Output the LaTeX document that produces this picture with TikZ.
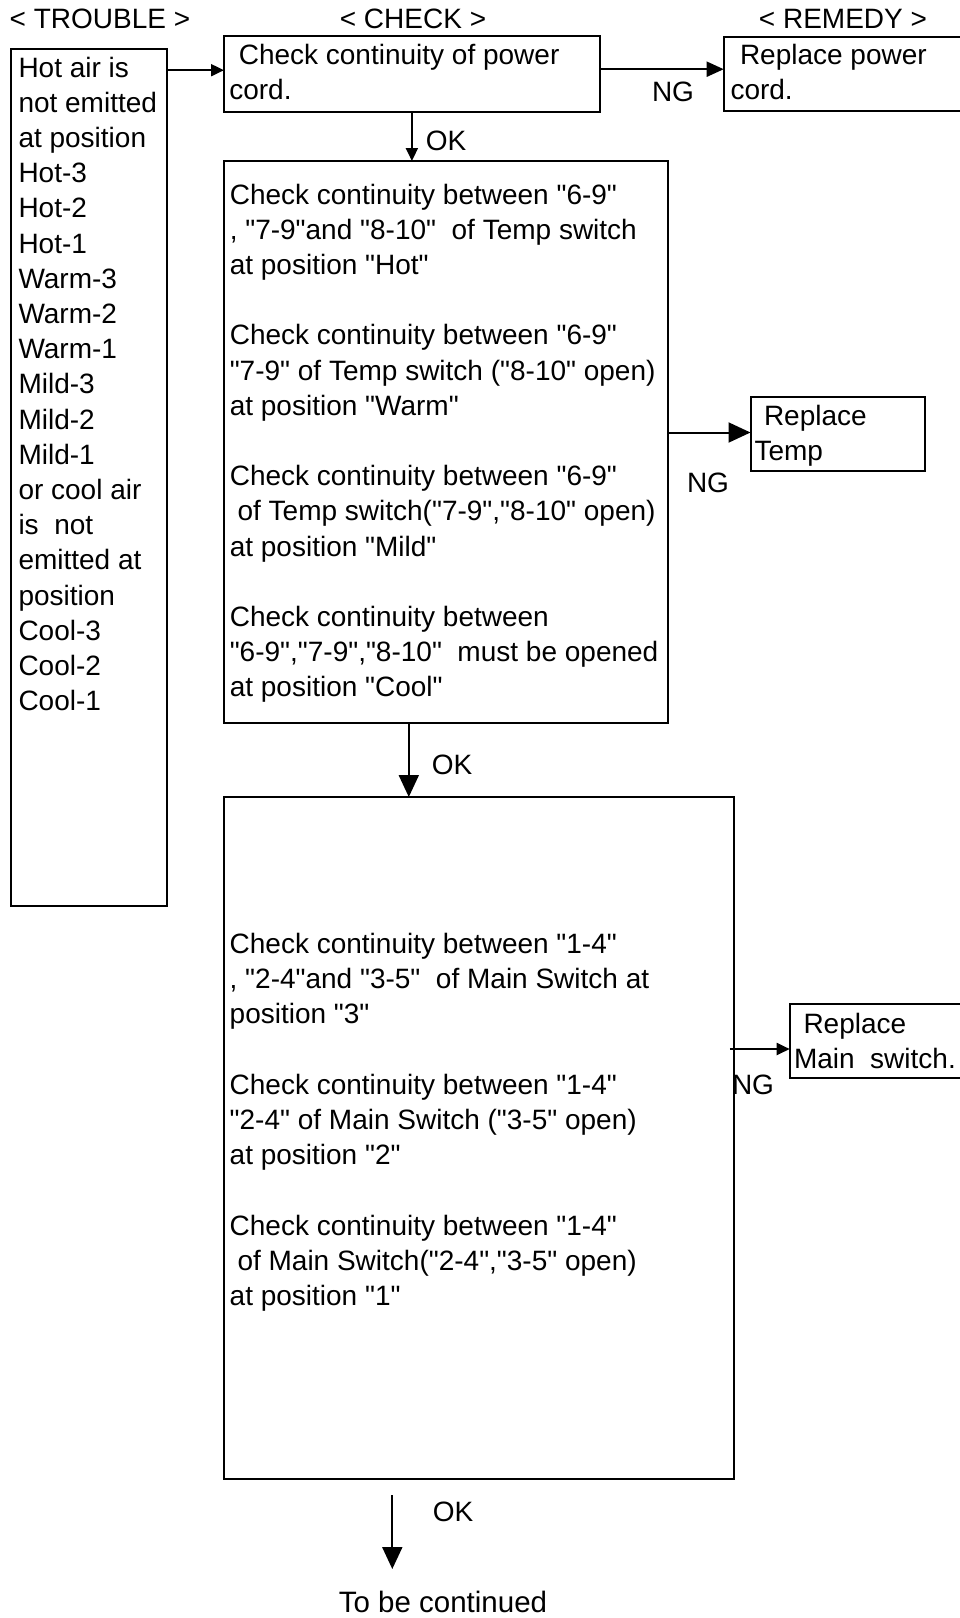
\documentclass[tikz,border=0pt]{standalone}
\usepackage{fontspec}
\newfontfamily\arialf{Liberation Sans}
\usetikzlibrary{arrows.meta,fit}
\begin{document}
\begin{tikzpicture}[x=1pt,y=-1pt,
  font=\arialf\fontsize{28}{35.2}\selectfont,
  box/.style={draw, line width=2pt, inner sep=0pt, outer sep=0pt},
  txt/.style={inner sep=0pt, outer sep=0pt, align=left, anchor=north west},
  lbl/.style={inner sep=0pt, outer sep=0pt, anchor=base},
  conn/.style={line width=2pt},
  tipS/.style={conn, -{Triangle[length=13pt,width=12pt]}},
  tipM/.style={conn, -{Triangle[length=17pt,width=15pt]}},
  tipL/.style={conn, -{Triangle[length=22pt,width=20pt]}}]
\useasboundingbox (0,0) rectangle (960,1618);

% headers
\node[lbl] (h1) at (100,28.6) {< TROUBLE >};
\node[lbl] (h2) at (413,28.6) {< CHECK >};
\node[lbl] (h3) at (843,28.6) {< REMEDY >};

% boxes
\node[box, fit={(11.4,48.5) (167.2,906.4)}] (trouble) {};
\node[box, fit={(224,36.1) (599.8,111.5)}] (check1) {};
\node[box, fit={(723.7,37.2) (963,110.5)}] (rem1) {};
\node[box, fit={(224,161) (668,722.6)}] (check2) {};
\node[box, fit={(750.5,397.4) (925,470.7)}] (rem2) {};
\node[box, fit={(224,797) (734,1479)}] (check3) {};
\node[box, fit={(789.7,1004.4) (963,1077.7)}] (rem3) {};

% texts
\node[txt] (t0) at (18.5,55) {\rule{0pt}{22pt}Hot air is\\not emitted\\at position\\Hot-3\\Hot-2\\Hot-1\\Warm-3\\Warm-2\\Warm-1\\Mild-3\\Mild-2\\Mild-1\\or cool air\\is\ \ not\\emitted at\\position\\Cool-3\\Cool-2\\Cool-1};

\node[txt] (t1) at (229.3,42.5) {\rule{0pt}{22pt}\hspace*{9.5pt}Check continuity of power\\cord.};
\node[txt] (t2) at (730.5,42.5) {\rule{0pt}{22pt}\hspace*{9.5pt}Replace power\\cord.};

\node[txt] (t3) at (229.8,182) {\rule{0pt}{22pt}Check continuity between "6-9"\\, "7-9"and "8-10"\ \ of Temp switch\\at position "Hot"\\[35.2pt]Check continuity between "6-9"\\"7-9" of Temp switch ("8-10" open)\\at position "Warm"\\[35.2pt]Check continuity between "6-9"\\\hspace*{7.8pt}of Temp switch("7-9","8-10" open)\\at position "Mild"\\[35.2pt]Check continuity between\\"6-9","7-9","8-10"\ \ must be opened\\at position "Cool"};

\node[txt] (t4) at (754.5,403) {\rule{0pt}{22pt}\hspace*{9.5pt}Replace\\Temp};

\node[txt] (t5) at (229.7,931.5) {\rule{0pt}{22pt}Check continuity between "1-4"\\, "2-4"and "3-5"\ \ of Main Switch at\\position "3"\\[35.2pt]Check continuity between "1-4"\\"2-4" of Main Switch ("3-5" open)\\at position "2"\\[35.2pt]Check continuity between "1-4"\\\hspace*{7.8pt}of Main Switch("2-4","3-5" open)\\at position "1"};

\node[txt] (t6) at (794,1011) {\rule{0pt}{22pt}\hspace*{9.5pt}Replace\\Main\ \ switch.};

% labels
\node[lbl] (ok1) at (446,150.4) {OK};
\node[lbl] (ok2) at (452,774) {OK};
\node[lbl] (ok3) at (453,1521) {OK};
\node[lbl] (ng1) at (673,101) {NG};
\node[lbl] (ng2) at (708,492) {NG};
\node[lbl] (ng3) at (753,1094) {NG};
\node[lbl, font=\arialf\fontsize{29.5}{35}\selectfont] (cont) at (443,1612.5) {To be continued};

% connectors
\coordinate (y1) at (0,70.2);
\draw[tipS] (trouble.east |- y1) -- (check1.west |- y1);
\coordinate (y2) at (0,69.2);
\draw[tipM] (check1.east |- y2) -- (rem1.west |- y2);
\coordinate (x3) at (411.9,0);
\draw[tipS] (check1.south -| x3) -- (check2.north -| x3);
\coordinate (y4) at (0,432.5);
\draw[tipL] (check2.east |- y4) -- (rem2.west |- y4);
\coordinate (x5) at (408.8,0);
\draw[tipL] (check2.south -| x5) -- (check3.north -| x5);
\coordinate (y6) at (0,1049);
\draw[tipS] ([xshift=-4.2pt]check3.east |- y6) -- (rem3.west |- y6);
\coordinate (f1) at (392.3,1495);
\coordinate (f2) at (392.3,1569);
\draw[tipL] (f1) -- (f2);
\end{tikzpicture}
\end{document}
